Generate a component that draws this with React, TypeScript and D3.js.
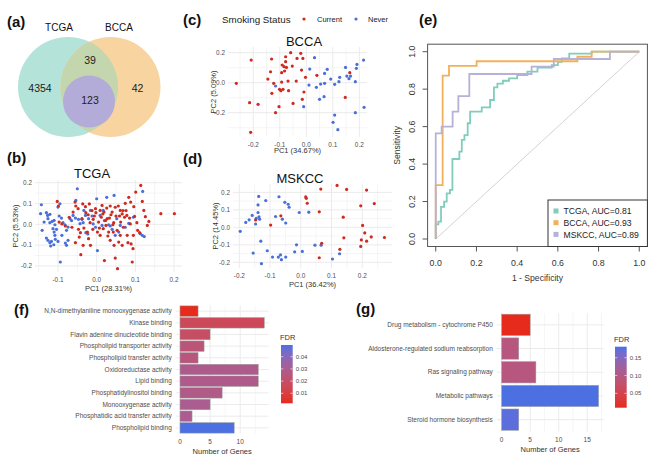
import * as d3 from "d3";

const FONT = "'Liberation Sans', Arial, Helvetica, sans-serif";
const RED = "#cf2a1f";
const BLUE = "#4a6fd8";
const GRID = "#ebebeb";
const TICK = "#4d4d4d";

type Pt = [number, number];

// (a) Venn
const vennSets = ["TCGA", "BCCA"];
const vennCounts = [4354, 39, 123, 42]; // TCGA only, shared, core, BCCA only

// (b) TCGA PCA
const tcgaNever: Pt[] = [
  [-0.143, 0.094], [-0.145, 0.051], [-0.141, -0.029], [-0.136, 0.011], [-0.13, 0.056], [-0.127, 0.043],
  [-0.121, 0.048], [-0.126, 0.027], [-0.121, 0.008], [-0.115, 0.014], [-0.11, 0.019], [-0.113, -0.021],
  [-0.108, -0.002], [-0.13, -0.066], [-0.126, -0.077], [-0.121, -0.088], [-0.117, -0.082], [-0.119, -0.104],
  [-0.108, -0.053], [-0.11, -0.037], [-0.111, -0.098], [-0.107, -0.072], [-0.1, -0.082], [-0.104, -0.024],
  [-0.1, 0.083], [-0.095, 0.099], [-0.097, 0.04], [-0.091, 0.03], [-0.087, 0.008], [-0.082, -0.002],
  [-0.078, -0.029], [-0.074, -0.013], [-0.081, -0.09], [-0.074, -0.077], [-0.069, 0.027], [-0.065, 0.018],
  [-0.061, 0.043], [-0.055, 0.03], [-0.05, 0.171], [-0.054, 0.115], [-0.047, 0.024], [-0.043, 0.003],
  [-0.038, 0.024], [-0.035, 0.008], [-0.033, 0.067], [-0.029, 0.043], [-0.028, -0.04], [-0.023, -0.046],
  [-0.021, 0.027], [-0.016, 0.067], [-0.012, 0.04], [-0.009, 0.002], [-0.003, -0.014], [0.0, 0.123],
  [0.002, -0.126], [0.009, 0.043], [0.014, -0.005], [0.017, 0.067], [0.02, 0.018], [0.026, 0.13],
  [0.031, -0.002], [0.035, -0.008], [0.04, -0.024], [0.045, 0.139], [0.048, -0.053], [0.052, 0.027],
  [0.057, -0.037], [0.061, -0.005], [0.074, -0.014], [0.083, 0.005], [0.095, 0.034], [0.119, 0.158],
  [0.113, -0.045], [0.118, -0.053], [0.123, -0.059], [-0.094, -0.181], [-0.078, -0.101], [-0.09, -0.053],
];
const tcgaCurrent: Pt[] = [
  [-0.102, 0.11], [-0.099, 0.088], [-0.097, 0.011], [-0.09, 0.002], [-0.081, -0.008], [-0.071, 0.034],
  [-0.064, -0.014], [-0.061, 0.059], [-0.056, 0.107], [-0.054, 0.088], [-0.048, 0.075], [-0.047, -0.024],
  [-0.045, -0.061], [-0.042, -0.04], [-0.041, -0.146], [-0.038, 0.027], [-0.036, 0.098], [-0.033, -0.018],
  [-0.029, 0.085], [-0.028, 0.056], [-0.024, -0.037], [-0.022, 0.046], [-0.019, 0.098], [-0.017, 0.008],
  [-0.016, -0.101], [-0.012, 0.066], [-0.01, -0.024], [-0.009, 0.024], [-0.006, 0.04], [-0.003, 0.075],
  [-0.002, 0.056], [0.002, -0.037], [0.005, 0.011], [0.007, -0.018], [0.009, -0.053], [0.012, 0.034],
  [0.014, 0.091], [0.016, 0.05], [0.019, 0.059], [0.02, -0.174], [0.023, 0.018], [0.024, -0.005],
  [0.027, 0.027], [0.029, -0.056], [0.031, -0.037], [0.033, 0.03], [0.035, 0.088], [0.037, 0.046],
  [0.04, 0.059], [0.042, -0.002], [0.044, 0.008], [0.045, -0.101], [0.048, 0.082], [0.048, -0.162],
  [0.05, 0.04], [0.053, -0.029], [0.054, -0.213], [0.056, 0.088], [0.059, 0.04], [0.061, -0.053],
  [0.062, 0.011], [0.066, 0.05], [0.068, 0.066], [0.069, -0.014], [0.072, 0.034], [0.074, 0.101],
  [0.076, 0.066], [0.079, -0.053], [0.081, -0.088], [0.083, 0.13], [0.085, 0.03], [0.087, 0.002],
  [0.089, -0.094], [0.092, -0.181], [0.094, -0.117], [0.096, 0.085], [0.098, 0.038], [0.101, 0.155],
  [0.104, 0.008], [0.106, -0.029], [0.114, 0.187], [0.118, 0.11], [0.122, 0.067], [0.126, 0.037],
  [0.131, -0.005], [0.135, 0.014], [0.166, 0.051], [0.201, 0.051], [0.111, -0.04], [0.088, 0.107],
  [0.057, -0.085], [0.035, -0.077], [0.017, -0.021], [-0.021, -0.069], [-0.035, -0.101], [-0.055, -0.088],
  [0.066, -0.101], [0.095, -0.053], [0.043, -0.037], [0.078, 0.043], [0.009, 0.067], [0.026, 0.078],
  [0.061, 0.067],
];

// (c) BCCA PCA
const bccaCurrent: Pt[] = [
  [-0.264, -0.004], [-0.208, 0.151], [-0.214, -0.133], [-0.182, -0.144], [-0.21, -0.331], [-0.145, 0.024],
  [-0.135, 0.073], [-0.131, 0.158], [-0.13, -0.071], [-0.123, -0.004], [-0.116, -0.2], [-0.103, -0.16],
  [-0.101, -0.044], [-0.096, -0.053], [-0.093, 0.067], [-0.093, 0.004], [-0.091, 0.118], [-0.088, -0.044],
  [-0.084, 0.107], [-0.082, 0.078], [-0.078, 0.173], [-0.078, 0.14], [-0.075, 0.102], [-0.069, 0.011],
  [-0.067, -0.053], [-0.059, 0.2], [-0.053, 0.111], [-0.05, -0.138], [-0.038, 0.011], [-0.035, 0.162],
  [-0.021, 0.196], [-0.018, 0.084], [-0.015, -0.111], [-0.013, 0.162], [-0.009, -0.062], [-0.003, 0.036],
  [0.04, 0.049], [0.147, -0.098], [0.164, 0.067],
];
const bccaNever: Pt[] = [
  [-0.116, -0.022], [-0.01, -0.16], [0.01, -0.016], [0.013, 0.091], [0.031, 0.167], [0.038, -0.031],
  [0.05, -0.111], [0.054, -0.009], [0.067, -0.093], [0.069, -0.004], [0.069, 0.062], [0.079, 0.089],
  [0.092, 0.024], [0.107, -0.011], [0.107, -0.216], [0.101, -0.264], [0.119, -0.313], [0.123, 0.007],
  [0.126, 0.036], [0.148, 0.102], [0.153, 0.044], [0.161, 0.027], [0.167, 0.044], [0.185, 0.007],
  [0.185, -0.2], [0.189, 0.096], [0.191, 0.122], [0.216, 0.151], [0.218, -0.164],
];

// (d) MSKCC PCA
const mskccNever: Pt[] = [
  [-0.197, -0.023], [-0.179, 0.028], [-0.168, 0.043], [-0.158, 0.068], [-0.147, 0.019], [-0.145, 0.051],
  [-0.139, 0.085], [-0.139, 0.128], [-0.137, 0.177], [-0.136, 0.06], [-0.134, 0.047], [-0.13, -0.079],
  [-0.128, -0.208], [-0.155, -0.147], [-0.114, 0.153], [-0.109, -0.134], [-0.092, -0.17], [-0.082, 0.062],
  [-0.071, 0.175], [-0.073, -0.17], [-0.066, -0.158], [-0.063, -0.185], [-0.06, 0.047], [-0.052, 0.143],
  [-0.049, 0.025], [-0.049, -0.17], [-0.041, 0.132], [-0.038, 0.115], [-0.02, -0.14], [-0.014, -0.1],
  [-0.005, 0.085], [0.005, -0.138], [0.026, 0.087], [0.046, -0.102], [0.066, -0.102], [0.103, -0.181],
  [0.126, -0.151],
];
const mskccCurrent: Pt[] = [
  [-0.147, 0.042], [-0.098, 0.013], [-0.065, 0.066], [0.016, 0.174], [0.018, 0.166], [0.021, 0.138],
  [0.06, 0.089], [0.065, 0.219], [0.06, -0.174], [0.068, -0.091], [0.118, 0.24], [0.127, -0.126],
  [0.138, 0.058], [0.14, -0.06], [0.149, 0.217], [0.195, 0.123], [0.201, 0.011], [0.208, -0.032],
  [0.197, -0.072], [0.214, -0.079], [0.214, 0.213], [0.195, -0.109], [0.229, -0.055], [0.239, 0.136],
  [0.272, -0.058],
];

// (e) ROC curves: [1 - specificity, sensitivity]
const rocTcga: Pt[] = [
  [0, 0], [0, 0.078], [0.013, 0.093], [0.026, 0.172], [0.041, 0.2], [0.054, 0.244], [0.07, 0.262],
  [0.082, 0.427], [0.116, 0.466], [0.128, 0.529], [0.141, 0.555], [0.157, 0.618], [0.169, 0.68],
  [0.226, 0.703], [0.267, 0.742], [0.286, 0.81], [0.303, 0.83], [0.33, 0.845], [0.36, 0.858],
  [0.4, 0.875], [0.45, 0.894], [0.5, 0.915], [0.57, 0.928], [0.6, 0.946], [0.62, 0.964], [0.656, 0.99],
  [0.766, 1], [1, 1],
];
const rocBcca: Pt[] = [
  [0, 0], [0, 0.288], [0.034, 0.872], [0.065, 0.924], [0.201, 0.949], [0.696, 0.973], [0.766, 1], [1, 1],
];
const rocMskcc: Pt[] = [
  [0, 0], [0, 0.564], [0.029, 0.6], [0.083, 0.68], [0.111, 0.763], [0.165, 0.881], [0.471, 0.92],
  [0.58, 0.961], [0.856, 1], [1, 1],
];
const rocLabels = ["TCGA, AUC=0.81", "BCCA, AUC=0.93", "MSKCC, AUC=0.89"];
const rocTicks = [0, 0.2, 0.4, 0.6, 0.8, 1.0];

// (f) GO terms
const goTerms = [
  "N,N-dimethylaniline monooxygenase activity",
  "Kinase binding",
  "Flavin adenine dinucleotide binding",
  "Phospholipid transporter activity",
  "Phospholipid transfer activity",
  "Oxidoreductase activity",
  "Lipid binding",
  "Phosphatidylinositol binding",
  "Monooxygenase activity",
  "Phosphatidic acid transfer activity",
  "Phospholipid binding",
];
const goCounts = [3, 14, 5, 4, 3, 13, 13, 7, 5, 2, 9];
const goFdr = [0.0018, 0.016, 0.019, 0.024, 0.025, 0.029, 0.029, 0.028, 0.03, 0.03, 0.0496];
const goFdrTicks = [0.01, 0.02, 0.03, 0.04];
const goXTicks = [0, 5, 10];

// (g) KEGG pathways
const keggTerms = [
  "Drug metabolism - cytochrome P450",
  "Aldosterone-regulated sodium reabsorption",
  "Ras signaling pathway",
  "Metabolic pathways",
  "Steroid hormone biosynthesis",
];
const keggCounts = [5, 3, 6, 17, 3];
const keggFdr = [0.0096, 0.095, 0.095, 0.181, 0.175];
const keggFdrTicks = [0.05, 0.1, 0.15];
const keggXTicks = [0, 5, 10, 15];

const LOW = "#e62a1c";
const HIGH = "#4c70e2";

function fmt1(v: number) {
  return (Math.abs(v) < 1e-9 ? 0 : v).toFixed(1);
}

function minorBreaks(ticks: number[], domain: [number, number]) {
  const s = ticks[1] - ticks[0];
  const out: number[] = [];
  for (let v = ticks[0] - s / 2; v <= domain[1] + 1e-9; v += s) if (v >= domain[0]) out.push(v);
  return out;
}

interface ScatterProps {
  title: string; titleX: number; titleY: number;
  left: number; right: number; top: number; bottom: number;
  xDomain: [number, number]; yDomain: [number, number];
  xTicks: number[]; yTicks: number[];
  xLabel: string; xLabelY: number; yLabel: string; yLabelX: number;
  current: Pt[]; never: Pt[];
}

function Scatter(p: ScatterProps) {
  const x = d3.scaleLinear().domain(p.xDomain).range([p.left, p.right]);
  const y = d3.scaleLinear().domain(p.yDomain).range([p.bottom, p.top]);
  const xm = minorBreaks(p.xTicks, p.xDomain);
  const ym = minorBreaks(p.yTicks, p.yDomain);
  const midY = (p.top + p.bottom) / 2;
  return (
    <g>
      {xm.map((v) => <line key={"xm" + v} x1={x(v)} x2={x(v)} y1={p.top} y2={p.bottom} stroke={GRID} strokeWidth={0.5} />)}
      {ym.map((v) => <line key={"ym" + v} y1={y(v)} y2={y(v)} x1={p.left} x2={p.right} stroke={GRID} strokeWidth={0.5} />)}
      {p.xTicks.map((v) => <line key={"xt" + v} x1={x(v)} x2={x(v)} y1={p.top} y2={p.bottom} stroke={GRID} strokeWidth={1} />)}
      {p.yTicks.map((v) => <line key={"yt" + v} y1={y(v)} y2={y(v)} x1={p.left} x2={p.right} stroke={GRID} strokeWidth={1} />)}
      {p.never.map((d, i) => <circle key={"n" + i} cx={x(d[0])} cy={y(d[1])} r={1.6} fill={BLUE} />)}
      {p.current.map((d, i) => <circle key={"c" + i} cx={x(d[0])} cy={y(d[1])} r={1.6} fill={RED} />)}
      {p.xTicks.map((v) => (
        <text key={"xl" + v} x={x(v)} y={p.bottom + 9.5} fontSize={6.4} fill={TICK} textAnchor="middle">{fmt1(v)}</text>
      ))}
      {p.yTicks.map((v) => (
        <text key={"yl" + v} x={p.left - 3} y={y(v) + 2.2} fontSize={6.4} fill={TICK} textAnchor="end">{fmt1(v)}</text>
      ))}
      <text x={p.titleX} y={p.titleY} fontSize={13} textAnchor="middle" fill="#111">{p.title}</text>
      <text x={(p.left + p.right) / 2} y={p.xLabelY} fontSize={7.5} textAnchor="middle" fill="#333">{p.xLabel}</text>
      <text transform={`translate(${p.yLabelX},${midY}) rotate(-90)`} fontSize={7.5} textAnchor="middle" fill="#333">{p.yLabel}</text>
    </g>
  );
}

function Venn() {
  return (
    <g>
      <defs>
        <clipPath id="tcgaClip"><circle cx={68} cy={87} r={50} /></clipPath>
      </defs>
      <circle cx={68} cy={87} r={50} fill="#b4e3d9" />
      <circle cx={110.5} cy={87} r={50} fill="#f8d4a0" />
      <circle cx={110.5} cy={87} r={50} fill="#c3d6ad" clipPath="url(#tcgaClip)" />
      <circle cx={89} cy={101.5} r={26} fill="#b4acd8" />
      <text x={59} y={31} fontSize={10} textAnchor="middle" fill="#111">{vennSets[0]}</text>
      <text x={119} y={31} fontSize={10} textAnchor="middle" fill="#111">{vennSets[1]}</text>
      <text x={40} y={91.5} fontSize={10.5} textAnchor="middle" fill="#222">{vennCounts[0]}</text>
      <text x={90} y={64} fontSize={10.5} textAnchor="middle" fill="#222">{vennCounts[1]}</text>
      <text x={90} y={104} fontSize={10.5} textAnchor="middle" fill="#222">{vennCounts[2]}</text>
      <text x={137.5} y={91.5} fontSize={10.5} textAnchor="middle" fill="#222">{vennCounts[3]}</text>
    </g>
  );
}

function Roc() {
  const L = 427.6, R = 647.4, T = 44.2, B = 246.5;
  const x = d3.scaleLinear().domain([-0.04, 1.04]).range([L, R]);
  const y = d3.scaleLinear().domain([-0.04, 1.04]).range([B, T]);
  const line = d3.line<Pt>().x((d) => x(d[0])).y((d) => y(d[1])).curve(d3.curveStepAfter);
  const curves = [rocTcga, rocBcca, rocMskcc];
  const colors = ["#80cdbd", "#f2b05a", "#b6b1d6"];
  const lx = 548, ly = 200;
  return (
    <g>
      <line x1={x(0)} y1={y(0)} x2={x(1)} y2={y(1)} stroke="#c8c8c8" strokeWidth={0.8} />
      {curves.map((c, i) => (
        <path key={i} d={line(c) || ""} fill="none" stroke={colors[i]} strokeWidth={1.8} />
      ))}
      <rect x={L} y={T} width={R - L} height={B - T} fill="none" stroke="#555" strokeWidth={1} />
      {rocTicks.map((v) => (
        <g key={"x" + v}>
          <line x1={x(v)} x2={x(v)} y1={B} y2={B + 5} stroke="#555" />
          <text x={x(v)} y={B + 19} fontSize={8.8} textAnchor="middle" fill="#333">{v.toFixed(1)}</text>
          <line y1={y(v)} y2={y(v)} x1={L} x2={L - 5} stroke="#555" />
          <text transform={`translate(${L - 13},${y(v)}) rotate(-90)`} fontSize={8.8} textAnchor="middle" fill="#333">{v.toFixed(1)}</text>
        </g>
      ))}
      <line x1={x(0)} x2={x(1)} y1={B} y2={B} stroke="#555" />
      <text x={(x(0) + x(1)) / 2} y={281} fontSize={8.6} textAnchor="middle" fill="#333">1 - Specificity</text>
      <text transform={`translate(400,${(T + B) / 2}) rotate(-90)`} fontSize={8.6} textAnchor="middle" fill="#333">Sensitivity</text>
      <rect x={lx} y={ly} width={R - lx} height={B - ly} fill="#fff" stroke="#333" strokeWidth={1} />
      {rocLabels.map((t, i) => (
        <g key={t}>
          <rect x={lx + 5.5} y={ly + 8.5 + i * 11.7} width={5} height={5} fill={colors[i]} />
          <text x={lx + 15.5} y={ly + 14.3 + i * 11.7} fontSize={8.6} fill="#222">{t}</text>
        </g>
      ))}
    </g>
  );
}

interface BarProps {
  terms: string[]; counts: number[]; fdr: number[];
  left: number; right: number; top: number; bottom: number;
  xMax: number; xTicks: number[]; fdrTicks: number[];
  legendX: number; legendTop: number; legendBottom: number; gradId: string;
}

function Bars(p: BarProps) {
  const pad = p.xMax * 0.05;
  const x = d3.scaleLinear().domain([-pad, p.xMax + pad]).range([p.left, p.right]);
  const y = d3.scaleBand<string>().domain(p.terms).range([p.top, p.bottom]).paddingInner(0.1).paddingOuter(0.05);
  const ext = d3.extent(p.fdr) as [number, number];
  const color = d3.scaleLinear<string>().domain(ext).range([LOW, HIGH]).interpolate(d3.interpolateLab);
  const ly = d3.scaleLinear().domain(ext).range([p.legendBottom, p.legendTop]);
  const step = p.xTicks[1] - p.xTicks[0];
  const minor = minorBreaks(p.xTicks, [-pad, p.xMax + pad]);
  const stops = d3.range(0, 1.0001, 0.1);
  const barW = 11.7;
  return (
    <g>
      <defs>
        <linearGradient id={p.gradId} x1="0" y1="1" x2="0" y2="0">
          {stops.map((s) => <stop key={s} offset={s} stopColor={color(ext[0] + s * (ext[1] - ext[0]))} />)}
        </linearGradient>
      </defs>
      {minor.map((v) => <line key={"m" + v} x1={x(v)} x2={x(v)} y1={p.top} y2={p.bottom} stroke={GRID} strokeWidth={0.5} />)}
      {p.xTicks.map((v) => <line key={"t" + v} x1={x(v)} x2={x(v)} y1={p.top} y2={p.bottom} stroke={GRID} strokeWidth={1} />)}
      {p.terms.map((t) => (
        <line key={"h" + t} x1={p.left} x2={p.right} y1={y(t)! + y.bandwidth() / 2} y2={y(t)! + y.bandwidth() / 2} stroke={GRID} strokeWidth={1} />
      ))}
      {p.terms.map((t, i) => (
        <rect key={"b" + t} x={x(0)} y={y(t)!} width={x(p.counts[i]) - x(0)} height={y.bandwidth()}
          fill={color(p.fdr[i])} stroke="#a0a0a0" strokeWidth={0.5} />
      ))}
      {p.terms.map((t) => (
        <text key={"l" + t} x={p.left - 4} y={y(t)! + y.bandwidth() / 2 + 2.2} fontSize={6.5} textAnchor="end" fill={TICK}>{t}</text>
      ))}
      {p.xTicks.map((v) => (
        <text key={"xl" + v} x={x(v)} y={p.bottom + 10} fontSize={6.5} textAnchor="middle" fill={TICK}>{v}</text>
      ))}
      <text x={x((p.xMax) / 2)} y={p.bottom + 20} fontSize={7.5} textAnchor="middle" fill="#333">Number of Genes</text>
      <text x={p.legendX - 1} y={p.legendTop - 5} fontSize={7.5} fill="#333">FDR</text>
      <rect x={p.legendX} y={p.legendTop} width={barW} height={p.legendBottom - p.legendTop} fill={`url(#${p.gradId})`} />
      {p.fdrTicks.map((v) => (
        <g key={"f" + v}>
          <line x1={p.legendX} x2={p.legendX + 2.3} y1={ly(v)} y2={ly(v)} stroke="#fff" strokeWidth={0.6} />
          <line x1={p.legendX + barW - 2.3} x2={p.legendX + barW} y1={ly(v)} y2={ly(v)} stroke="#fff" strokeWidth={0.6} />
          <text x={p.legendX + barW + 3} y={ly(v) + 2} fontSize={6} fill={TICK}>{v.toFixed(2)}</text>
        </g>
      ))}
      {step ? null : null}
    </g>
  );
}

export default function App() {
  return (
    <svg width={669} height={457} style={{ position: "absolute", left: 0, top: 0, background: "#fff" }} fontFamily={FONT}>
      <rect width={669} height={457} fill="#fff" />
      <Venn />
      <Scatter title="TCGA" titleX={92} titleY={177.5} left={35} right={182} top={180} bottom={272}
        xDomain={[-0.1595, 0.2207]} yDomain={[-0.229, 0.213]} xTicks={[-0.1, 0, 0.1, 0.2]} yTicks={[-0.2, -0.1, 0, 0.1, 0.2]}
        xLabel="PC1 (28.31%)" xLabelY={291} yLabel="PC2 (5.53%)" yLabelX={18} current={tcgaCurrent} never={tcgaNever} />
      <Scatter title="BCCA" titleX={304} titleY={45.5} left={228} right={367} top={47} bottom={137}
        xDomain={[-0.2955, 0.229]} yDomain={[-0.362, 0.238]} xTicks={[-0.2, -0.1, 0, 0.1, 0.2]} yTicks={[-0.2, 0, 0.2]}
        xLabel="PC1 (34.67%)" xLabelY={153} yLabel="PC2 (5.09%)" yLabelX={216} current={bccaCurrent} never={bccaNever} />
      <Scatter title="MSKCC" titleX={300} titleY={182.5} left={233} right={392} top={184} bottom={268}
        xDomain={[-0.2205, 0.2966]} yDomain={[-0.2326, 0.248]} xTicks={[-0.2, -0.1, 0, 0.1, 0.2]} yTicks={[-0.2, -0.1, 0, 0.1, 0.2]}
        xLabel="PC1 (36.42%)" xLabelY={287} yLabel="PC2 (14.45%)" yLabelX={218} current={mskccCurrent} never={mskccNever} />
      <Roc />
      <Bars terms={goTerms} counts={goCounts} fdr={goFdr} left={175.8} right={268.5} top={305.3} bottom={433.7}
        xMax={14} xTicks={goXTicks} fdrTicks={goFdrTicks} legendX={281} legendTop={345} legendBottom={403.3} gradId="gradF" />
      <Bars terms={keggTerms} counts={keggCounts} fdr={keggFdr} left={496.8} right={603.5} top={313} bottom={431.5}
        xMax={17} xTicks={keggXTicks} fdrTicks={keggFdrTicks} legendX={615} legendTop={346.7} legendBottom={407.7} gradId="gradG" />
      {/* Smoking status legend */}
      <text x={222} y={22.5} fontSize={9.8} fill="#222">Smoking Status</text>
      <circle cx={304} cy={19} r={1.6} fill={RED} />
      <text x={317} y={22} fontSize={7.5} fill="#222">Current</text>
      <circle cx={356} cy={19} r={1.6} fill={BLUE} />
      <text x={368} y={22} fontSize={7.5} fill="#222">Never</text>
      {/* panel letters */}
      <g fontWeight="bold" fontSize={15} fill="#111">
        <text x={7} y={27}>(a)</text>
        <text x={7} y={163}>(b)</text>
        <text x={183} y={25}>(c)</text>
        <text x={183} y={164}>(d)</text>
        <text x={419} y={25}>(e)</text>
        <text x={14} y={315}>(f)</text>
        <text x={356} y={314}>(g)</text>
      </g>
    </svg>
  );
}
